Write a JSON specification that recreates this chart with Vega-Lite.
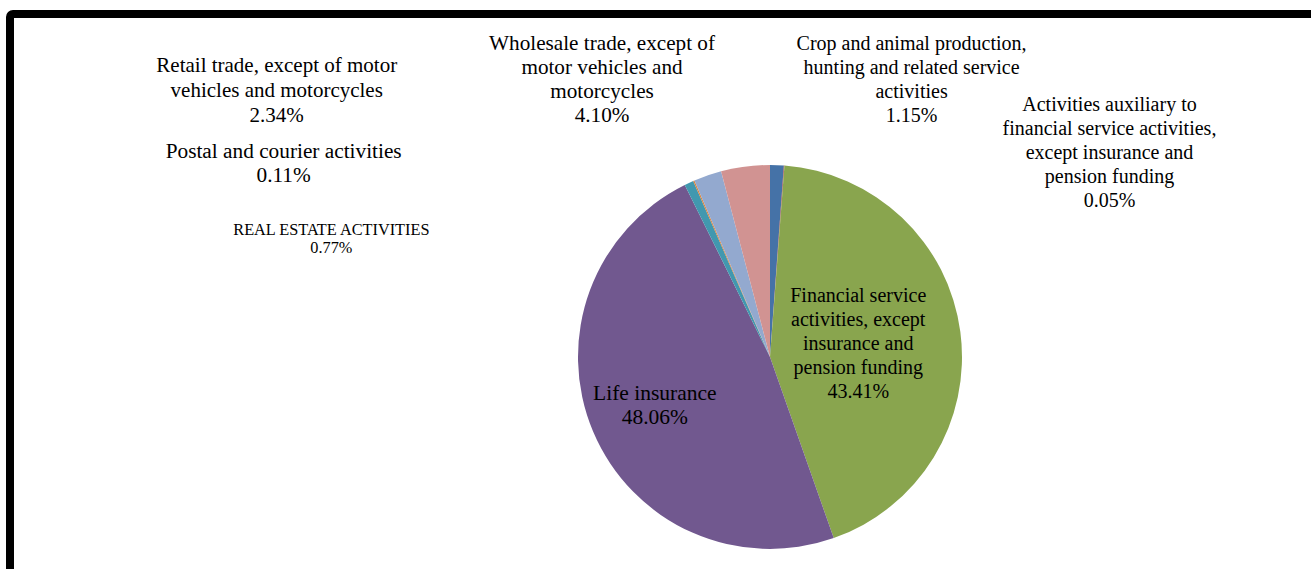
{
  "$schema": "https://vega.github.io/schema/vega-lite/v6.json",
  "autosize": {"type": "none"},
  "width": 1520,
  "height": 686,
  "padding": {"left": 10, "top": 14, "right": -219, "bottom": -131},
  "background": "white",
  "view": {"stroke": "black", "strokeWidth": 8, "cornerRadius": 3, "fill": "white"},
  "config": {
    "view": {"stroke": "black", "strokeWidth": 8, "cornerRadius": 3, "fill": "white"},
    "text": {"font": "Liberation Serif", "fontSize": 20, "lineHeight": 24, "color": "black", "align": "center", "baseline": "middle"}
  },
  "data": {
    "values": [
      {"rank": 1, "name": "Crop and animal production, hunting and related service activities", "share": 1.15, "lines": ["Crop and animal production,", "hunting and related service", "activities", "1.15%"]},
      {"rank": 2, "name": "Activities auxiliary to financial service activities, except insurance and pension funding", "share": 0.05, "lines": ["Activities auxiliary to", "financial service activities,", "except insurance and", "pension funding", "0.05%"]},
      {"rank": 3, "name": "Financial service activities, except insurance and pension funding", "share": 43.41, "lines": ["Financial service", "activities, except", "insurance and", "pension funding", "43.41%"]},
      {"rank": 4, "name": "Life insurance", "share": 48.06, "lines": ["Life insurance", "48.06%"]},
      {"rank": 5, "name": "REAL ESTATE ACTIVITIES", "share": 0.77, "lines": ["REAL ESTATE ACTIVITIES", "0.77%"]},
      {"rank": 6, "name": "Postal and courier activities", "share": 0.11, "lines": ["Postal and courier activities", "0.11%"]},
      {"rank": 7, "name": "Retail trade, except of motor vehicles and motorcycles", "share": 2.34, "lines": ["Retail trade, except of motor", "vehicles and motorcycles", "2.34%"]},
      {"rank": 8, "name": "Wholesale trade, except of motor vehicles and motorcycles", "share": 4.10, "lines": ["Wholesale trade, except of", "motor vehicles and", "motorcycles", "4.10%"]}
    ]
  },
  "encoding": {
    "theta": {"field": "share", "type": "quantitative", "stack": true},
    "order": {"field": "rank", "type": "quantitative"}
  },
  "layer": [
    {
      "mark": {"type": "arc", "radius": 192},
      "encoding": {
        "color": {
          "field": "name", "type": "nominal", "legend": null,
          "scale": {
            "domain": [
              "Crop and animal production, hunting and related service activities",
              "Activities auxiliary to financial service activities, except insurance and pension funding",
              "Financial service activities, except insurance and pension funding",
              "Life insurance",
              "REAL ESTATE ACTIVITIES",
              "Postal and courier activities",
              "Retail trade, except of motor vehicles and motorcycles",
              "Wholesale trade, except of motor vehicles and motorcycles"
            ],
            "range": ["#4572A7", "#AA4643", "#89A54E", "#71588F", "#4198AF", "#DB843D", "#93A9CF", "#D19392"]
          }
        }
      }
    },
    {
      "mark": {"type": "text", "radius": 210, "dx": 134, "dy": -103},
      "encoding": {"text": {"condition": {"test": "datum.rank === 1", "field": "lines"}, "value": ""}}
    },
    {
      "mark": {"type": "text", "radius": 210, "dx": 324, "dy": -43},
      "encoding": {"text": {"condition": {"test": "datum.rank === 2", "field": "lines"}, "value": ""}}
    },
    {
      "mark": {"type": "text", "radius": 89, "dx": 0, "dy": -49},
      "encoding": {"text": {"condition": {"test": "datum.rank === 3", "field": "lines"}, "value": ""}}
    },
    {
      "mark": {"type": "text", "radius": 125, "dy": -12, "fontSize": 21.5},
      "encoding": {"text": {"condition": {"test": "datum.rank === 4", "field": "lines"}, "value": ""}}
    },
    {
      "mark": {"type": "text", "radius": 210, "dx": -350, "dy": 63, "fontSize": 16.3, "lineHeight": 18},
      "encoding": {"text": {"condition": {"test": "datum.rank === 5", "field": "lines"}, "value": ""}}
    },
    {
      "mark": {"type": "text", "radius": 210, "dx": -403, "dy": -12, "fontSize": 21.3},
      "encoding": {"text": {"condition": {"test": "datum.rank === 6", "field": "lines"}, "value": ""}}
    },
    {
      "mark": {"type": "text", "radius": 210, "dx": -425, "dy": -92, "fontSize": 21, "lineHeight": 25},
      "encoding": {"text": {"condition": {"test": "datum.rank === 7", "field": "lines"}, "value": ""}}
    },
    {
      "mark": {"type": "text", "radius": 210, "dx": -141, "dy": -105, "fontSize": 21.2},
      "encoding": {"text": {"condition": {"test": "datum.rank === 8", "field": "lines"}, "value": ""}}
    }
  ]
}
